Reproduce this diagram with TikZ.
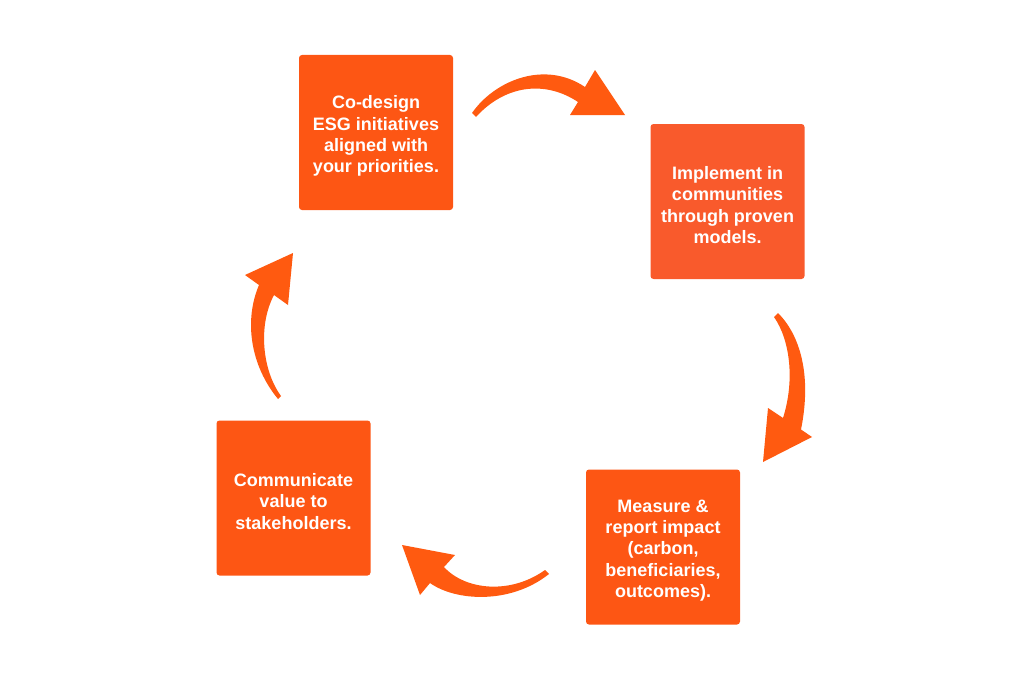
\documentclass[tikz,border=0pt]{standalone}
\usepackage{fontspec}
\setmainfont{Liberation Sans}
\definecolor{boxorange}{HTML}{FD5614}
\definecolor{boxorangeb}{HTML}{F95A2C}
\definecolor{arroworange}{HTML}{FF5A10}

\begin{document}
\begin{tikzpicture}[x=1pt,y=-1pt]
  \tikzstyle{stage}=[fill=boxorange, rounded corners=3pt, minimum width=154pt,
    minimum height=155pt, inner sep=0pt]
  \tikzstyle{stagetext}=[text=white, align=center, yshift=-3.5pt,
    font=\fontsize{18}{21.3}\selectfont\bfseries]
  \tikzstyle{swoosh}=[fill=arroworange]
  \useasboundingbox (0,0) rectangle (1024,693);
  % stages
  \node [stage] (codesign) at (376,132.5) {};
  \node [stagetext] (codesigntext) at (codesign.center) {Co-design\\ESG initiatives\\aligned with\\your priorities.};
  \node [stage, fill=boxorangeb] (implement) at (727.5,201.5) {};
  \node [stagetext] (implementtext) at (implement.center) {Implement in\\communities\\through proven\\models.};
  \node [stage] (measure) at (663,547) {};
  \node [stagetext] (measuretext) at (measure.center) {Measure \&\\report impact\\(carbon,\\beneficiaries,\\outcomes).};
  \node [stage] (communicate) at (293.5,498) {};
  \node [stagetext] (communicatetext) at (communicate.center) {Communicate\\value to\\stakeholders.};
  % swoosh arrows between stages
  \coordinate (tailA) at (472,113);
  \coordinate (tipA) at (625,115);
  \fill [swoosh] (tailA) .. controls (495,80) and (545,60) .. (585,87)
    -- (595,70) -- (tipA) -- (570,115) -- (578,102)
    .. controls (545,80) and (505,85) .. (476,117) -- cycle;
  \coordinate (tailB) at (778,313);
  \coordinate (tipB) at (763,462);
  \fill [swoosh] (tailB) .. controls (800,335) and (812,375) .. (801,429.5)
    -- (812,437) -- (tipB) -- (768,408) -- (783,418)
    .. controls (795,380) and (790,340) .. (774,317) -- cycle;
  \coordinate (tailC) at (549,574);
  \coordinate (tipC) at (402,545);
  \fill [swoosh] (tailC) .. controls (510,605) and (455,601) .. (430,583)
    -- (420,595) -- (tipC) -- (455,555) -- (444,567)
    .. controls (465,590) and (510,595) .. (545,570) -- cycle;
  \coordinate (tailD) at (278,399);
  \coordinate (tipD) at (293,253);
  \fill [swoosh] (tailD) .. controls (250,365) and (244,320) .. (259,285)
    -- (245,275) -- (tipD) -- (288,305) -- (274,295)
    .. controls (258,325) and (262,370) .. (281,396) -- cycle;
\end{tikzpicture}
\end{document}
